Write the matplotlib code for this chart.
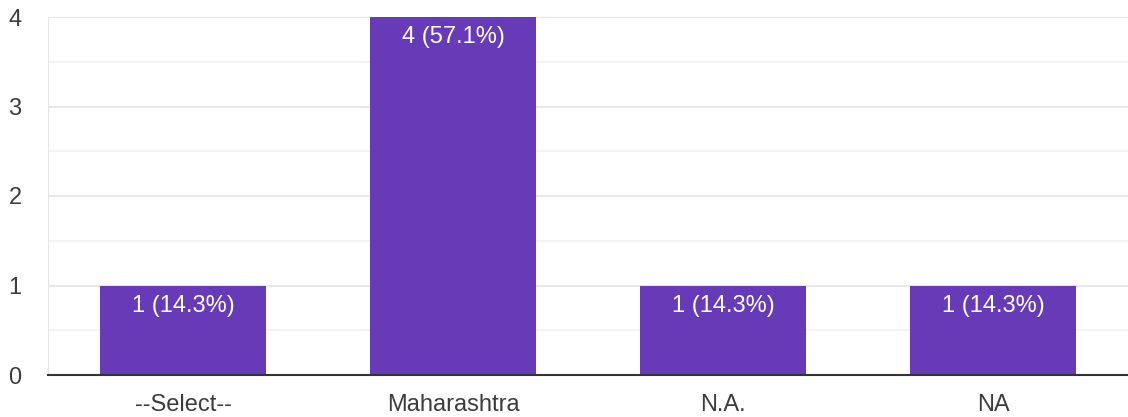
import matplotlib.pyplot as plt
from matplotlib.ticker import MultipleLocator

# Data
categories = ['--Select--', 'Maharashtra', 'N.A.', 'NA']
counts = [1, 4, 1, 1]
labels = ['1 (14.3%)', '4 (57.1%)', '1 (14.3%)', '1 (14.3%)']

plt.rcParams['font.family'] = ['Liberation Sans', 'DejaVu Sans']

fig = plt.figure(figsize=(11.28, 4.17), dpi=100)
ax = fig.add_axes([48/1128, 1 - 375/417, 1 - 48/1128, (375 - 17)/417])

x = range(len(categories))
bars = ax.bar(x, counts, width=0.615, color='#673ab7', zorder=3)

# value labels inside top of bars
for b, lab in zip(bars, labels):
    ax.annotate(lab, (b.get_x() + b.get_width()/2, b.get_height()),
                xytext=(0, -14.5), textcoords='offset points',
                ha='center', va='center', color='white', fontsize=17, zorder=4)

ax.set_xlim(-0.5, len(categories) - 0.5)
ax.set_ylim(0, 4)
ax.yaxis.set_major_locator(MultipleLocator(1))
ax.yaxis.set_minor_locator(MultipleLocator(0.5))
ax.grid(axis='y', which='major', color='#e6e6e6', lw=1.3, zorder=0)
ax.grid(axis='y', which='minor', color='#f2f2f2', lw=1.3, zorder=0)

ax.set_xticks(list(x))
ax.set_xticklabels(categories)
ax.tick_params(axis='both', which='both', length=0, labelsize=17, colors='#3c3c3c')
ax.tick_params(axis='x', pad=14)
ax.tick_params(axis='y', pad=19)

for s in ['top', 'right']:
    ax.spines[s].set_visible(False)
ax.spines['left'].set_color('#e6e6e6')
ax.spines['bottom'].set_color('#333333')
ax.spines['bottom'].set_linewidth(1.5)
ax.spines['bottom'].set_zorder(5)

plt.savefig('out.png', dpi=100)
